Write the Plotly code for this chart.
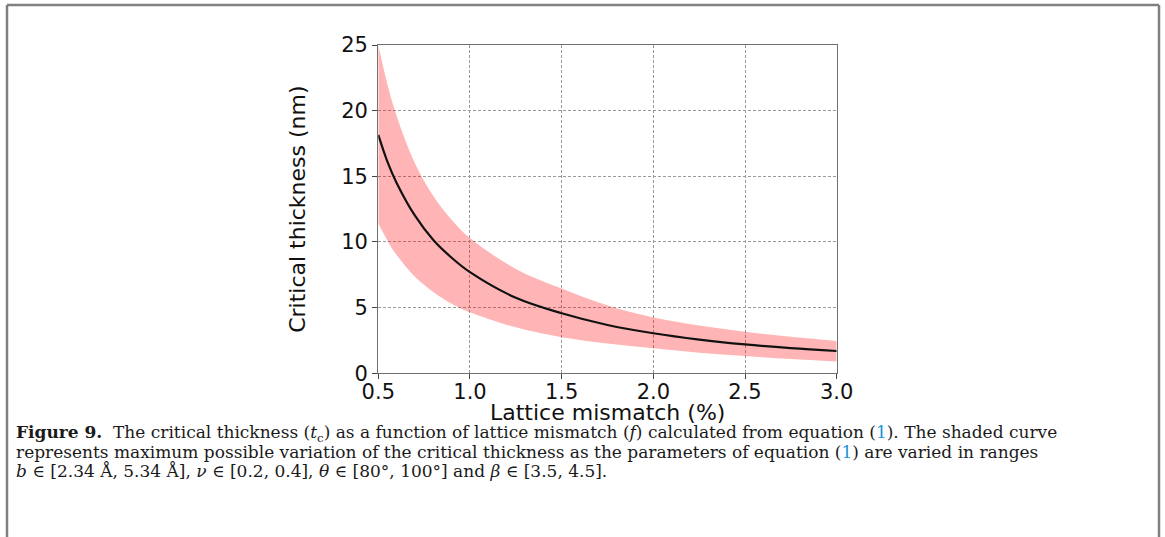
import plotly.graph_objects as go

# Lattice mismatch (%) sample positions
mismatch = [0.5, 0.55, 0.6, 0.7, 0.8, 0.9, 1.0, 1.25, 1.5, 1.75, 2.0, 2.25, 2.5, 2.75, 3.0]
# Central critical thickness (nm)
tc_mid = [18.15, 16.1, 14.5, 12.0, 10.15, 8.8, 7.7, 5.75, 4.57, 3.68, 3.05, 2.57, 2.2, 1.92, 1.7]
# Upper bound of shaded band (nm)
tc_upper = [25.0, 22.0, 19.6, 16.0, 13.5, 11.7, 10.3, 7.95, 6.45, 5.16, 4.25, 3.64, 3.17, 2.78, 2.46]
# Lower bound of shaded band (nm)
tc_lower = [11.4, 10.1, 9.0, 7.35, 6.2, 5.3, 4.65, 3.5, 2.75, 2.27, 1.9, 1.57, 1.32, 1.08, 0.89]

x_ticks = [0.5, 1.0, 1.5, 2.0, 2.5, 3.0]
y_ticks = [0, 5, 10, 15, 20, 25]

W, H = 1165, 537

fig = go.Figure()
fig.add_trace(go.Scatter(x=mismatch, y=tc_lower, mode="lines", line=dict(width=0, shape="spline"),
                         hoverinfo="skip", showlegend=False))
fig.add_trace(go.Scatter(x=mismatch, y=tc_upper, mode="lines", line=dict(width=0, shape="spline"),
                         fill="tonexty", fillcolor="rgba(255,0,0,0.29)", hoverinfo="skip", showlegend=False))
fig.add_trace(go.Scatter(x=mismatch, y=tc_mid, mode="lines", line=dict(color="#111111", width=2.2, shape="spline"),
                         showlegend=False))

axis_common = dict(
    showline=True, mirror=True, linecolor="#707070", linewidth=1.3,
    ticks="outside", ticklen=5, tickwidth=1.2, tickcolor="#444444",
    showgrid=True, gridcolor="#9a9a9a", gridwidth=1, griddash="3px,2px",
    zeroline=False, automargin=False,
    tickfont=dict(family="DejaVu Sans", size=21, color="#111111"),
)

fig.update_layout(
    width=W, height=H,
    margin=dict(l=0, r=0, t=0, b=0),
    paper_bgcolor="white", plot_bgcolor="white",
    xaxis=dict(range=[0.5, 3.0], tickvals=x_ticks, ticktext=[f"{v:.1f}" for v in x_ticks],
               domain=[378.3 / W, 836.7 / W], ticklabelstandoff=-6,
               **axis_common),
    yaxis=dict(range=[0, 25], tickvals=y_ticks, domain=[1 - 373.3 / H, 1 - 45 / H],
               title=dict(text="Critical thickness (nm)", font=dict(family="DejaVu Sans", size=22, color="#111111"),
                          standoff=29),
               **axis_common),
)

# x-axis title placed as annotation for precise vertical position
fig.add_annotation(text="Lattice mismatch (%)", xref="paper", yref="paper",
                   x=(378.3 + 836.7) / 2 / W, y=1 - 412 / H, xanchor="center", yanchor="middle",
                   showarrow=False, font=dict(family="DejaVu Sans", size=22, color="#111111"))

# outer figure frame
frame = dict(type="line", xref="paper", yref="paper", line=dict(color="#808080", width=2.5))
fig.add_shape(x0=7 / W, x1=1159 / W, y0=1 - 5 / H, y1=1 - 5 / H, **frame)
fig.add_shape(x0=7 / W, x1=7 / W, y0=0, y1=1 - 5 / H, **frame)
fig.add_shape(x0=1159 / W, x1=1159 / W, y0=0, y1=1 - 5 / H, **frame)

blue = "#1a93d8"
caption_lines = [
    "<b>Figure 9.</b>  The critical thickness (<i>t</i><sub>c</sub>) as a function of lattice mismatch (<i>f</i>) "
    f"calculated from equation (<span style='color:{blue}'>1</span>). The shaded curve",
    "represents maximum possible variation of the critical thickness as the parameters of equation "
    f"(<span style='color:{blue}'>1</span>) are varied in ranges",
    "<i>b</i> ∈ [2.34 Å, 5.34 Å], <i>ν</i> ∈ [0.2, 0.4], <i>θ</i> ∈ [80°, 100°] and <i>β</i> ∈ [3.5, 4.5].",
]
caption_y = [433, 452, 471]
for txt, yy in zip(caption_lines, caption_y):
    fig.add_annotation(text=txt, xref="paper", yref="paper", x=14 / W, y=1 - yy / H,
                       xanchor="left", yanchor="middle", showarrow=False, align="left",
                       font=dict(family="DejaVu Serif", size=17, color="#1a1a1a"))

fig.write_html("out.html")
